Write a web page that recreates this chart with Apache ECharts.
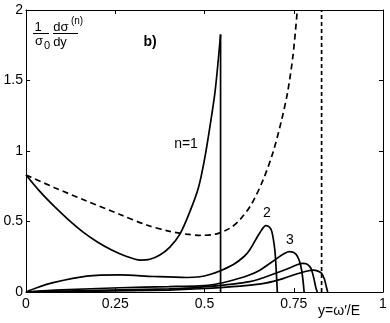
<!DOCTYPE html>
<html>
<head>
<meta charset="utf-8">
<script src="https://cdn.jsdelivr.net/npm/echarts@6/dist/echarts.min.js"></script>
<style>
  html, body { margin: 0; padding: 0; background: #fff; }
  #main { width: 390px; height: 323px; }
</style>
</head>
<body>
<div id="main"></div>
<script>
// ticks
const xTicks = [0, 0.25, 0.5, 0.75, 1];
const yTicks = [0, 0.5, 1, 1.5, 2];

// curves, [y, value]
const envelope = [[0,0.83],[0.08,0.74],[0.17,0.645],[0.263,0.55],[0.338,0.475],[0.4,0.432],
  [0.45,0.41],[0.49,0.402],[0.53,0.41],[0.571,0.452],[0.6,0.515],[0.632,0.625],[0.665,0.8],
  [0.693,1.0],[0.716,1.22],[0.733,1.42],[0.748,1.68],[0.76,2.0]];
const edgeLine = [[0.828,0],[0.828,2]];
const curveN1 = [[0,0.83],[0.04,0.71],[0.08,0.605],[0.12,0.51],[0.16,0.425],[0.2,0.355],
  [0.24,0.298],[0.28,0.254],[0.319,0.226],[0.347,0.232],[0.375,0.262],[0.403,0.318],
  [0.431,0.41],[0.459,0.57],[0.483,0.74],[0.5,0.94],[0.515,1.17],[0.53,1.43],[0.545,1.826]];
const dropN1 = [[0.545,1.826],[0.545,0]];
const curveN2 = [[0,0],[0.03,0.03],[0.076,0.066],[0.17,0.112],[0.263,0.121],[0.357,0.11],
  [0.45,0.103],[0.487,0.108],[0.515,0.124],[0.543,0.149],[0.581,0.195],[0.61,0.25],
  [0.627,0.3],[0.655,0.42],[0.672,0.471],[0.682,0.46],[0.689,0.425],[0.697,0.298],
  [0.701,0.15],[0.704,0]];
const curveN3 = [[0,0],[0.1,0.015],[0.263,0.03],[0.4,0.038],[0.487,0.044],[0.53,0.055],
  [0.581,0.085],[0.62,0.115],[0.655,0.155],[0.702,0.237],[0.725,0.275],[0.738,0.286],
  [0.75,0.28],[0.758,0.263],[0.766,0.22],[0.772,0.156],[0.776,0.08],[0.779,0]];
const curveN4 = [[0,0],[0.2,0.012],[0.4,0.022],[0.487,0.033],[0.627,0.073],[0.711,0.144],
  [0.74,0.172],[0.758,0.192],[0.775,0.203],[0.785,0.2],[0.795,0.18],[0.8,0.156],
  [0.806,0.1],[0.812,0.03],[0.816,0]];
const curveN5 = [[0,0],[0.2,0.006],[0.4,0.014],[0.487,0.023],[0.6,0.042],[0.674,0.065],
  [0.72,0.095],[0.758,0.128],[0.785,0.147],[0.805,0.155],[0.818,0.148],[0.828,0.133],
  [0.836,0.09],[0.841,0.04],[0.845,0]];

const FONT = "'Liberation Sans', Arial, sans-serif";

const chart = echarts.init(document.getElementById('main'), null, { renderer: 'canvas' });

function axisCommon(show) {
  return {
    type: 'value',
    axisLine: { show: true, onZero: false, lineStyle: { color: '#000', width: 1 } },
    axisTick: { show: true, inside: true, length: 4, lineStyle: { color: '#000' } },
    splitLine: { show: false },
    axisLabel: { show: show, color: '#000', fontSize: 14, fontFamily: FONT }
  };
}

function lineSeries(data, dash, smooth) {
  return {
    type: 'line',
    data: data,
    symbol: 'none',
    smooth: smooth ? 0.3 : false,
    lineStyle: { color: '#000', width: 1.7, type: dash || 'solid' },
    animation: false,
    silent: true
  };
}

const xBottom = Object.assign(axisCommon(true), { position: 'bottom', min: xTicks[0], max: xTicks[xTicks.length - 1], interval: 0.25 });
xBottom.axisLabel.margin = 5;
const xTop = Object.assign(axisCommon(false), { position: 'top', min: 0, max: 1, interval: 0.25 });
const yLeft = Object.assign(axisCommon(true), { position: 'left', min: yTicks[0], max: yTicks[yTicks.length - 1], interval: 0.5 });
yLeft.axisLabel.margin = 3;
const yRight = Object.assign(axisCommon(false), { position: 'right', min: 0, max: 2, interval: 0.5 });

const txt = (x, y, s, size, extra) => Object.assign({
  type: 'text', x: x, y: y,
  style: Object.assign({ text: s, fill: '#000', font: size + 'px ' + FONT, align: 'center', verticalAlign: 'middle' }, extra || {})
});
const bar = (x1, x2, y) => ({ type: 'line', shape: { x1: x1, y1: y, x2: x2, y2: y }, style: { stroke: '#000', lineWidth: 1 } });

const option = {
  backgroundColor: '#fff',
  animation: false,
  grid: { left: 26, right: 7, top: 10, bottom: 31, containLabel: false },
  xAxis: [xBottom, xTop],
  yAxis: [yLeft, yRight],
  series: [
    lineSeries(envelope, [6, 4], true),
    lineSeries(edgeLine, [4, 3]),
    lineSeries(curveN1, null, true),
    lineSeries(dropN1),
    lineSeries(curveN2, null, true),
    lineSeries(curveN3, null, true),
    lineSeries(curveN4, null, true),
    lineSeries(curveN5, null, true)
  ],
  graphic: [
    // y label: 1/sigma0 dsigma^(n)/dy
    txt(38, 27, '1', 13),
    bar(33, 49, 33.5),
    txt(39, 41, 'σ', 13),
    txt(47, 46, '0', 11),
    txt(61, 27, 'dσ', 13),
    txt(77, 21, '(n)', 10),
    bar(53, 78, 33.5),
    txt(60, 42, 'dy', 13),
    txt(150, 42, 'b)', 14, { font: 'bold 14px ' + FONT }),
    txt(186, 144, 'n=1', 14),
    txt(267, 213, '2', 14),
    txt(290, 240, '3', 14),
    txt(339, 311, 'y=ω′/E', 14)
  ]
};

chart.setOption(option);
</script>
</body>
</html>
